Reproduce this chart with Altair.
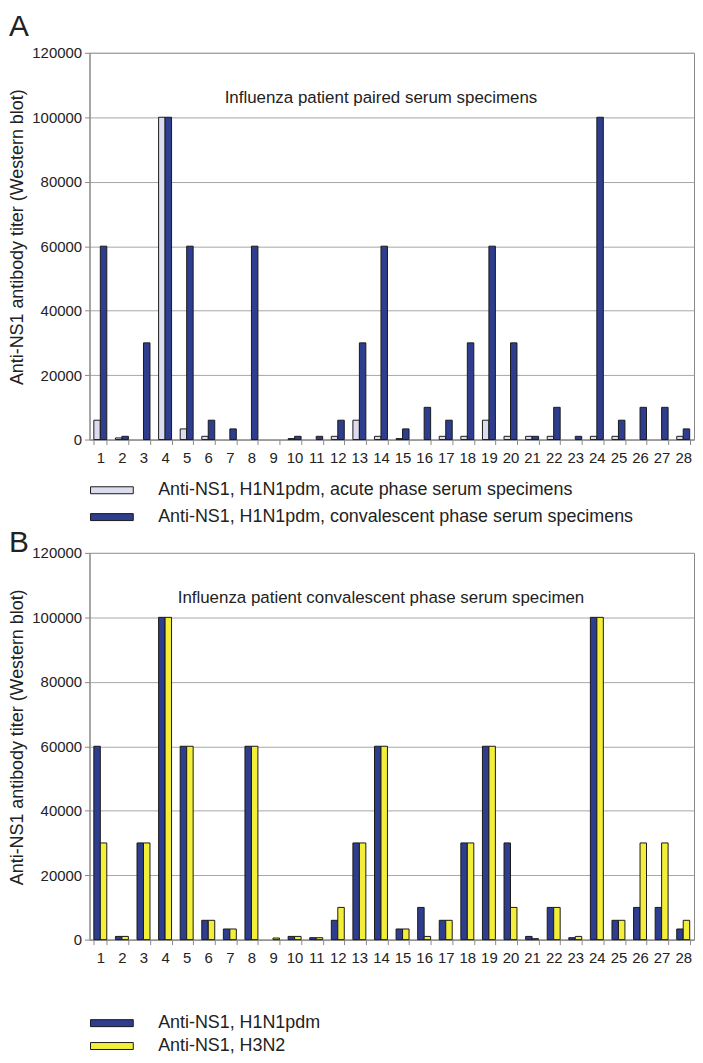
import altair as alt
import pandas as pd

patients = list(range(1, 29))

# Panel A: H1N1pdm, acute vs convalescent
acute_a = [6000, 500, 0, 100000, 3300, 1000, 0, 0, 0, 300, 0, 1000, 6000, 1000,
           300, 0, 1000, 1000, 6000, 1000, 1000, 1000, 0, 1000, 1000, 0, 0, 1000]
conval_a = [60000, 1000, 30000, 100000, 60000, 6000, 3300, 60000, 0, 1000, 1000, 6000, 30000, 60000,
            3300, 10000, 6000, 30000, 60000, 30000, 1000, 10000, 1000, 100000, 6000, 10000, 10000, 3300]

# Panel B: convalescent, H1N1pdm vs H3N2
h1n1_b = [60000, 1000, 30000, 100000, 60000, 6000, 3300, 60000, 0, 1000, 600, 6000, 30000, 60000,
          3300, 10000, 6000, 30000, 60000, 30000, 1000, 10000, 600, 100000, 6000, 10000, 10000, 3300]
h3n2_b = [30000, 1000, 30000, 100000, 60000, 6000, 3300, 60000, 500, 1000, 600, 10000, 30000, 60000,
          3300, 1000, 6000, 30000, 60000, 10000, 300, 10000, 1000, 100000, 6000, 30000, 30000, 6000]

series_a = ["Anti-NS1, H1N1pdm, acute phase serum specimens",
            "Anti-NS1, H1N1pdm, convalescent phase serum specimens"]
series_b = ["Anti-NS1, H1N1pdm", "Anti-NS1, H3N2"]
colors_a = ["#dcdcf0", "#2e3d8e"]
colors_b = ["#2e3d8e", "#f2ee3a"]
y_ticks = [0, 20000, 40000, 60000, 80000, 100000, 120000]

FONT = "Liberation Sans"
W, H = 608, 389


def long_df(vals_list, names):
    rows = []
    for name, vals in zip(names, vals_list):
        for p, v in zip(patients, vals):
            rows.append({"patient": p, "series": name, "value": v})
    return pd.DataFrame(rows)


def panel(df, names, colors, letter, letter_offset, note, legend_y, row_pad):
    bars = alt.Chart(df).transform_filter("datum.value > 0").mark_bar(
        stroke="#1a1a1a", strokeWidth=1
    ).encode(
        x=alt.X("patient:O",
                scale=alt.Scale(domain=patients, paddingInner=0.4, paddingOuter=0.2),
                axis=alt.Axis(title=None, labelAngle=0, tickBand="extent",
                              tickSize=5, labelPadding=6)),
        xOffset=alt.XOffset("series:N", scale=alt.Scale(domain=names)),
        y=alt.Y("value:Q", scale=alt.Scale(domain=[0, 120000]),
                axis=alt.Axis(values=y_ticks, format="d",
                              title="Anti-NS1 antibody titer (Western blot)",
                              titleX=-72, titleY=185, titleBaseline="middle",
                              titleAlign="center",
                              tickSize=5, labelPadding=3)),
        color=alt.Color("series:N", scale=alt.Scale(domain=names, range=colors),
                        legend=alt.Legend(title=None, orient="none", legendX=1, legendY=legend_y,
                                          direction="vertical", padding=0,
                                          symbolType="M-1.8,-0.7H6.8V0.7H-1.8Z", symbolSize=100,
                                          symbolStrokeColor="#1a1a1a", symbolStrokeWidth=1,
                                          symbolOpacity=1,
                                          labelFont=FONT, labelFontSize=18, labelColor="#222",
                                          labelOffset=50, labelLimit=0, rowPadding=row_pad)),
    )
    note_df = pd.DataFrame({"note": [note]})
    txt = alt.Chart(note_df).mark_text(font=FONT, fontSize=17, color="#222").encode(
        x=alt.datum(14, type="ordinal"),
        y=alt.datum(106000, type="quantitative"),
        text="note:N",
    )
    return alt.layer(bars, txt).properties(
        width=W, height=H,
        title=alt.TitleParams(letter, anchor="start", frame="bounds", fontSize=30,
                              fontWeight="normal", font=FONT, color="#222",
                              offset=letter_offset),
    )


pa = panel(long_df([acute_a, conval_a], series_a), series_a, colors_a, "A", 4,
           "Influenza patient paired serum specimens", 431, 9)
pb = panel(long_df([h1n1_b, h3n2_b], series_b), series_b, colors_b, "B", -12,
           "Influenza patient convalescent phase serum specimen", 464, 5)

chart = alt.vconcat(pa, pb, spacing=0).resolve_scale(
    color="independent", xOffset="independent"
).resolve_legend(color="independent").properties(padding=0).configure_axis(
    labelFont=FONT, labelFontSize=15, labelColor="#222",
    titleFont=FONT, titleFontSize=18, titleFontWeight="normal", titleColor="#222",
    domainColor="#888888", tickColor="#888888", gridColor="#a6a6a6", gridWidth=1,
).configure_view(stroke="#888888", strokeWidth=1)

chart.save("out.html", embed_options={"renderer": "svg", "actions": False})
